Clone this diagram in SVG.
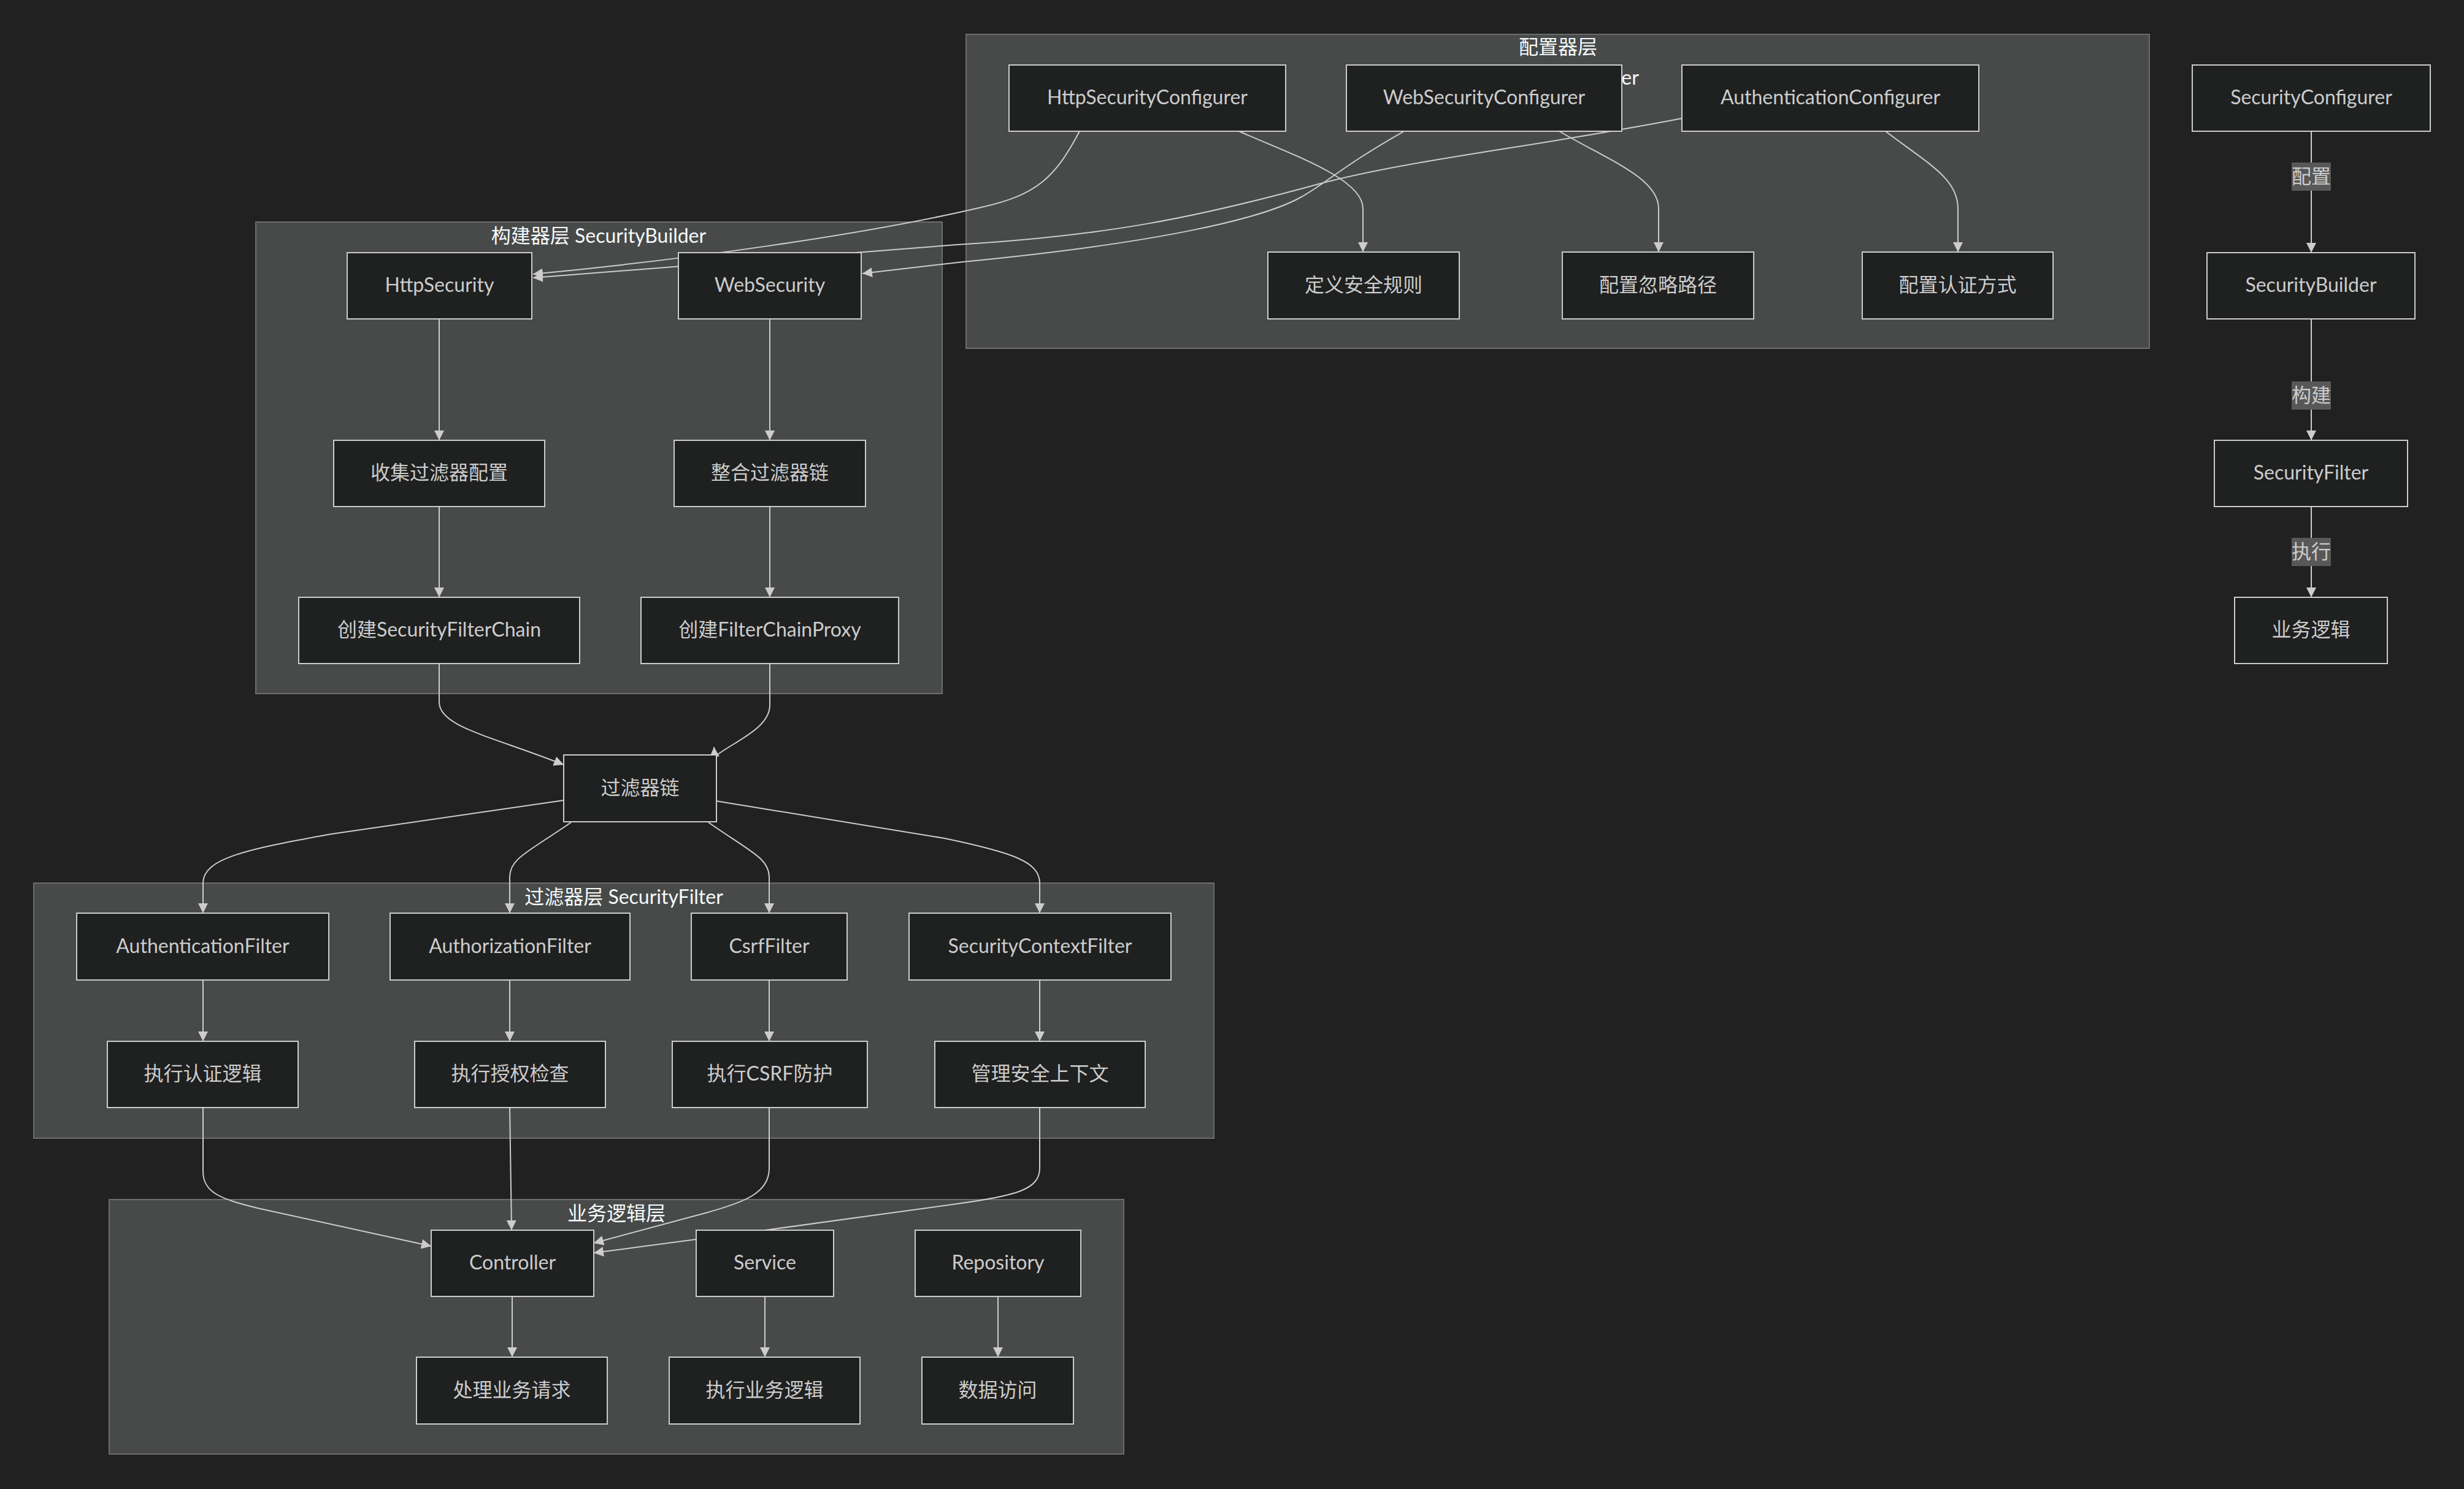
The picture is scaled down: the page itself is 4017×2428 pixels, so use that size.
<svg xmlns="http://www.w3.org/2000/svg" width="4017" height="2428" viewBox="0 0 4017 2428">
<defs>
<style>
.bg{fill:#212121}
.cluster rect{fill:#484a4a;stroke:#6b6c6c;stroke-width:2}
.ctitle{fill:#f6fbfa;font-family:Lato,"Noto Sans CJK SC",sans-serif;font-size:32px;text-anchor:middle;dominant-baseline:central;transform:translateY(-3px)}
.node rect{fill:#1f2020;stroke:#cccccc;stroke-width:2}
.node text{fill:#cccccc;font-family:Lato,"Noto Sans CJK SC",sans-serif;font-size:32px;text-anchor:middle;dominant-baseline:central;transform:translateY(-3px)}
.edges path{fill:none;stroke:#cccccc;stroke-width:2;marker-end:url(#arrow)}
.elabel rect{fill:#585858}
.elabel text{fill:#cccccc;font-family:Lato,"Noto Sans CJK SC",sans-serif;font-size:32px;text-anchor:middle;dominant-baseline:central;transform:translateY(-2px)}
</style>
<marker id="arrow" viewBox="0 0 10 10" refX="10" refY="5" markerUnits="userSpaceOnUse" markerWidth="16" markerHeight="16" orient="auto">
<path d="M0,0 L10,5 L0,10 z" fill="#cccccc"/>
</marker>
</defs>
<rect class="bg" x="0" y="0" width="4017" height="2428"/>

<g id="clusters">
<g id="cluster-config" class="cluster">
<rect x="1575" y="56" width="1929" height="512"/>
<text class="ctitle" x="2540" y="78">配置器层</text>
<text class="ctitle" x="2540" y="128">SecurityConfigurer</text>
</g>
<g id="cluster-builder" class="cluster">
<rect x="417" y="362" width="1119" height="769"/>
<text class="ctitle" x="976" y="386">构建器层 SecurityBuilder</text>
</g>
<g id="cluster-filter" class="cluster">
<rect x="55" y="1440" width="1924" height="416"/>
<text class="ctitle" x="1017" y="1464">过滤器层 SecurityFilter</text>
</g>
<g id="cluster-business" class="cluster">
<rect x="178" y="1956" width="1654" height="415"/>
<text class="ctitle" x="1005" y="1980">业务逻辑层</text>
</g>
</g>

<g id="connectors" class="edges">
<path d="M1760,214 C1720,290 1690,318 1600,338 C1400,385 1100,425 869,447"/>
<path d="M2742,193 C2500,240 2300,260 2150,300 C1950,355 1800,385 1560,399 L869,453"/>
<path d="M2289,214 C2190,270 2160,300 2120,322 C2060,355 1900,395 1570,427 L1406,446"/>
<path d="M2020,214 C2100,250 2222,290 2222,340 L2222,411"/>
<path d="M2542,214 C2620,260 2704,290 2704,340 L2704,411"/>
<path d="M3074,214 C3140,265 3192,290 3192,340 L3192,411"/>
<path d="M716,520 L716,718"/>
<path d="M716,826 L716,974"/>
<path d="M1255,520 L1255,718"/>
<path d="M1255,826 L1255,974"/>
<path d="M716,1082 L716,1145 C716,1185 800,1200 919,1247"/>
<path d="M1255,1082 L1255,1150 C1255,1188 1195,1210 1165,1234 L1164,1218"/>
<path d="M919,1305 L540,1360 C400,1385 331,1400 331,1440 L331,1489"/>
<path d="M931,1341 C860,1390 831,1400 831,1430 L831,1489"/>
<path d="M1155,1341 C1225,1390 1254,1400 1254,1430 L1254,1489"/>
<path d="M1167,1306 L1540,1367 C1650,1390 1695,1405 1695,1440 L1695,1489"/>
<path d="M331,1598 L331,1698"/>
<path d="M831,1598 L831,1698"/>
<path d="M1254,1598 L1254,1698"/>
<path d="M1695,1598 L1695,1698"/>
<path d="M331,1806 L331,1910 C331,1945 360,1955 420,1970 L703,2032"/>
<path d="M831,1806 L834,2006"/>
<path d="M1254,1806 L1254,1905 C1254,1945 1215,1960 1150,1978 L968,2027"/>
<path d="M1695,1806 L1695,1905 C1695,1940 1655,1950 1560,1963 C1400,1985 1150,2020 968,2043"/>
<path d="M835,2114 L835,2213"/>
<path d="M1247,2114 L1247,2213"/>
<path d="M1627,2114 L1627,2213"/>
<path d="M3768,214 L3768,412"/>
<path d="M3768,520 L3768,718"/>
<path d="M3768,826 L3768,974"/>
</g>

<g id="edge-labels">
<g class="elabel"><rect x="3736" y="265" width="64" height="46"/><text x="3768" y="288">配置</text></g>
<g class="elabel"><rect x="3736" y="622" width="64" height="46"/><text x="3768" y="645">构建</text></g>
<g class="elabel"><rect x="3736" y="877" width="64" height="46"/><text x="3768" y="900">执行</text></g>
</g>

<g id="nodes">
<g id="HttpSecurityConfigurer" class="node"><rect x="1645" y="106" width="451" height="108"/><text x="1870.5" y="160">HttpSecurityConfigurer</text></g>
<g id="WebSecurityConfigurer" class="node"><rect x="2195" y="106" width="449" height="108"/><text x="2419.5" y="160">WebSecurityConfigurer</text></g>
<g id="AuthenticationConfigurer" class="node"><rect x="2742" y="106" width="484" height="108"/><text x="2984" y="160">AuthenticationConfigurer</text></g>
<g id="DefineRules" class="node"><rect x="2067" y="411" width="312" height="109"/><text x="2223" y="466">定义安全规则</text></g>
<g id="IgnorePaths" class="node"><rect x="2547" y="411" width="312" height="109"/><text x="2703" y="466">配置忽略路径</text></g>
<g id="AuthMethod" class="node"><rect x="3036" y="411" width="311" height="109"/><text x="3191.5" y="466">配置认证方式</text></g>

<g id="HttpSecurity" class="node"><rect x="566" y="412" width="301" height="108"/><text x="716.5" y="466">HttpSecurity</text></g>
<g id="WebSecurity" class="node"><rect x="1106" y="412" width="298" height="108"/><text x="1255" y="466">WebSecurity</text></g>
<g id="CollectFilters" class="node"><rect x="544" y="718" width="344" height="108"/><text x="716" y="772">收集过滤器配置</text></g>
<g id="MergeChain" class="node"><rect x="1099" y="718" width="312" height="108"/><text x="1255" y="772">整合过滤器链</text></g>
<g id="CreateSFC" class="node"><rect x="487" y="974" width="458" height="108"/><text x="716" y="1028">创建SecurityFilterChain</text></g>
<g id="CreateFCP" class="node"><rect x="1045" y="974" width="420" height="108"/><text x="1255" y="1028">创建FilterChainProxy</text></g>

<g id="FilterChain" class="node"><rect x="919" y="1231" width="249" height="109"/><text x="1043.5" y="1286">过滤器链</text></g>

<g id="AuthenticationFilter" class="node"><rect x="125" y="1489" width="411" height="109"/><text x="330.5" y="1544">AuthenticationFilter</text></g>
<g id="AuthorizationFilter" class="node"><rect x="636" y="1489" width="391" height="109"/><text x="831.5" y="1544">AuthorizationFilter</text></g>
<g id="CsrfFilter" class="node"><rect x="1127" y="1489" width="254" height="109"/><text x="1254" y="1544">CsrfFilter</text></g>
<g id="SecurityContextFilter" class="node"><rect x="1482" y="1489" width="427" height="109"/><text x="1695.5" y="1544">SecurityContextFilter</text></g>
<g id="DoAuth" class="node"><rect x="175" y="1698" width="311" height="108"/><text x="330.5" y="1752">执行认证逻辑</text></g>
<g id="DoAuthz" class="node"><rect x="676" y="1698" width="311" height="108"/><text x="831.5" y="1752">执行授权检查</text></g>
<g id="DoCsrf" class="node"><rect x="1096" y="1698" width="318" height="108"/><text x="1255" y="1752">执行CSRF防护</text></g>
<g id="ManageCtx" class="node"><rect x="1524" y="1698" width="343" height="108"/><text x="1695.5" y="1752">管理安全上下文</text></g>

<g id="Controller" class="node"><rect x="703" y="2006" width="265" height="108"/><text x="835.5" y="2060">Controller</text></g>
<g id="Service" class="node"><rect x="1135" y="2006" width="224" height="108"/><text x="1247" y="2060">Service</text></g>
<g id="Repository" class="node"><rect x="1492" y="2006" width="270" height="108"/><text x="1627" y="2060">Repository</text></g>
<g id="HandleRequest" class="node"><rect x="679" y="2213" width="311" height="109"/><text x="834.5" y="2268">处理业务请求</text></g>
<g id="DoBusiness" class="node"><rect x="1091" y="2213" width="311" height="109"/><text x="1246.5" y="2268">执行业务逻辑</text></g>
<g id="DataAccess" class="node"><rect x="1503" y="2213" width="247" height="109"/><text x="1626.5" y="2268">数据访问</text></g>

<g id="SecurityConfigurer" class="node"><rect x="3574" y="106" width="388" height="108"/><text x="3768" y="160">SecurityConfigurer</text></g>
<g id="SecurityBuilder" class="node"><rect x="3598" y="412" width="339" height="108"/><text x="3767.5" y="466">SecurityBuilder</text></g>
<g id="SecurityFilter" class="node"><rect x="3610" y="718" width="315" height="108"/><text x="3767.5" y="772">SecurityFilter</text></g>
<g id="BusinessLogic" class="node"><rect x="3643" y="974" width="249" height="108"/><text x="3767.5" y="1028">业务逻辑</text></g>
</g>
</svg>
